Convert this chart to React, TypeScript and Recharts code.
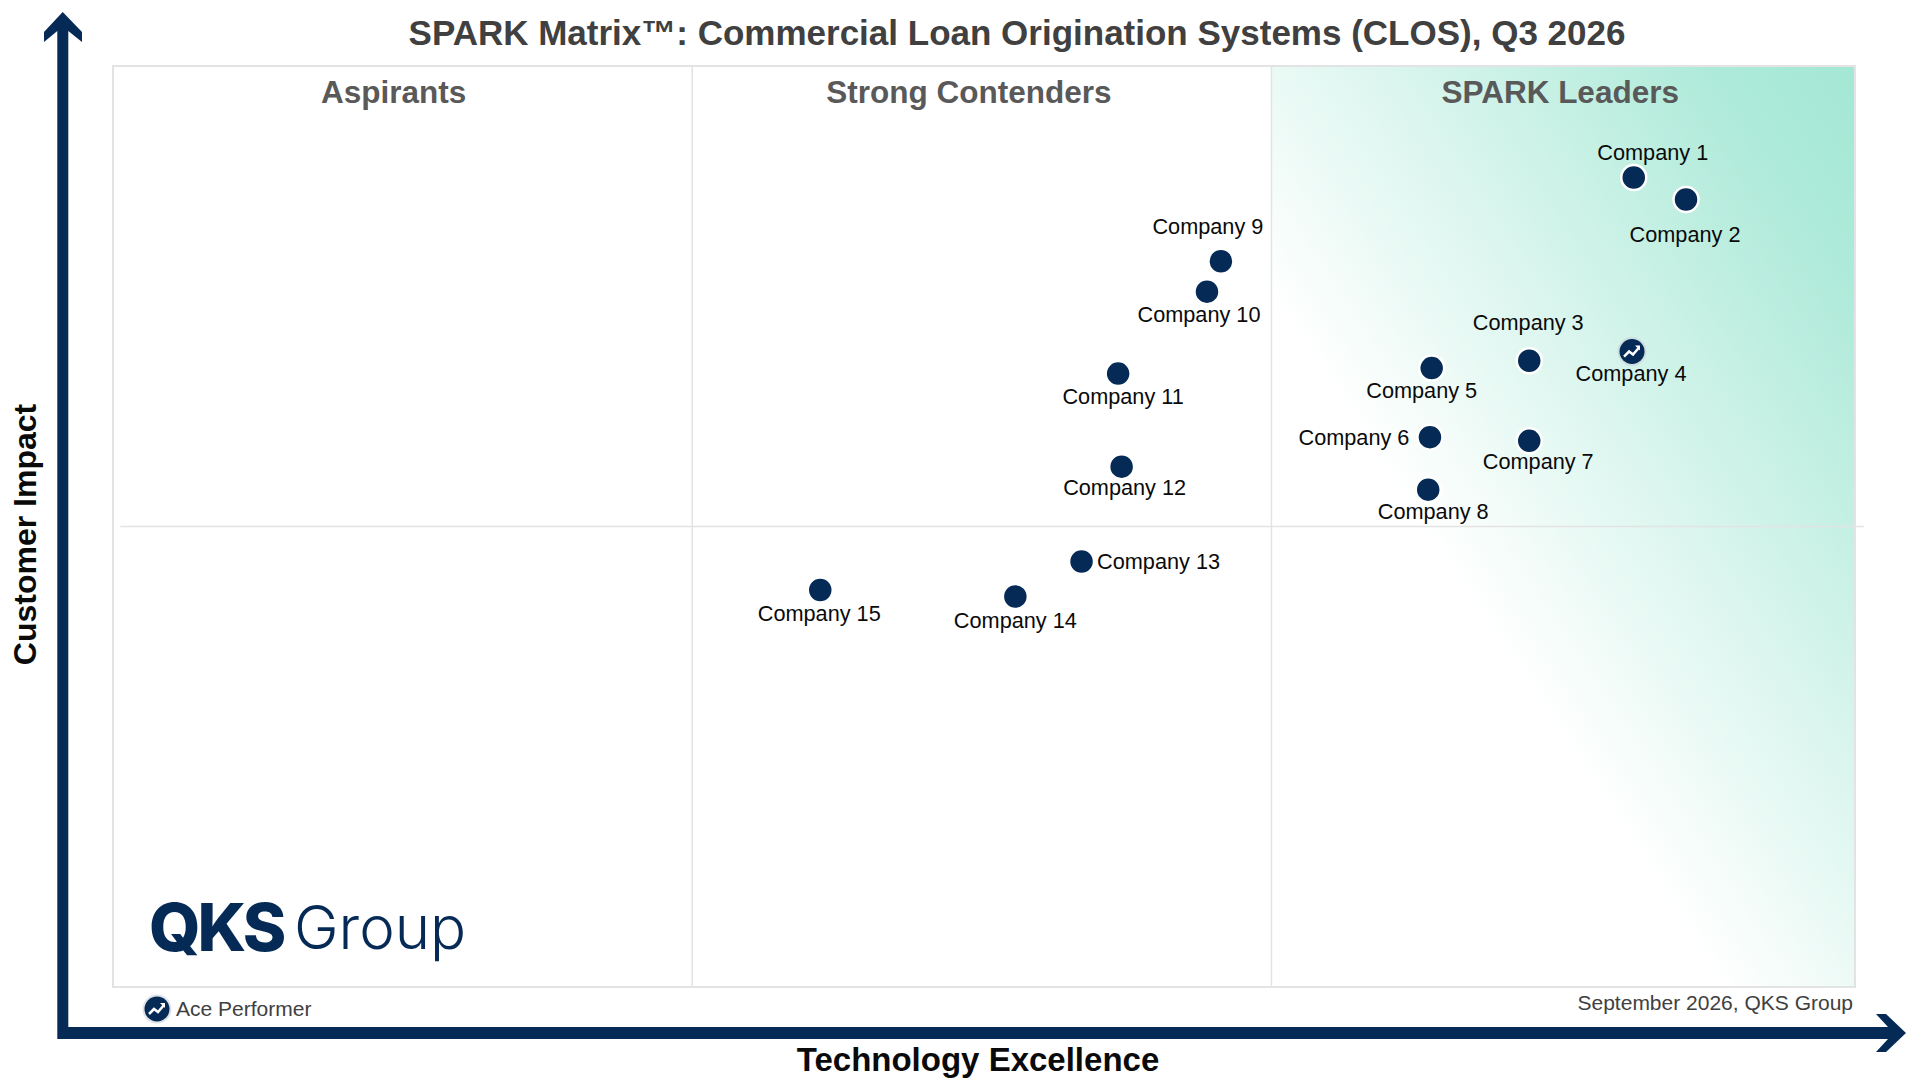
import { ScatterChart, Scatter, XAxis, YAxis, ReferenceArea, ReferenceLine, Label } from "recharts";

const companies = [
  "Company 1", "Company 2", "Company 3", "Company 4", "Company 5",
  "Company 6", "Company 7", "Company 8", "Company 9", "Company 10",
  "Company 11", "Company 12", "Company 13", "Company 14", "Company 15",
];
const technologyExcellence = [87.3, 90.3, 81.3, 87.2, 75.7, 75.6, 81.3, 75.5, 63.6, 62.8, 57.7, 57.9, 55.6, 51.8, 40.6];
const customerImpact = [87.9, 85.5, 68.0, 69.0, 67.2, 59.7, 59.3, 54.0, 78.8, 75.5, 66.6, 56.5, 46.2, 42.4, 43.1];
const acePerformers = ["Company 4"];
const quadrantEdges = [0, 33.25, 66.5, 100];
const quadrantNames = ["Aspirants", "Strong Contenders", "SPARK Leaders"];

const data = companies.map((name, i) => ({
  name,
  x: technologyExcellence[i],
  y: customerImpact[i],
}));

const NAVY = "#052a56";

// label offset from its dot, px
const labelOffsets: Record<string, [number, number]> = {
  "Company 1": [19, -25],
  "Company 2": [-1, 35],
  "Company 3": [-1, -38],
  "Company 4": [-1, 22],
  "Company 5": [-10, 22],
  "Company 6": [-76, 0],
  "Company 7": [9, 21],
  "Company 8": [5, 22],
  "Company 9": [-13, -35],
  "Company 10": [-8, 23],
  "Company 11": [5, 23],
  "Company 12": [3, 21],
  "Company 13": [77, 0],
  "Company 14": [0, 24],
  "Company 15": [-1, 23],
};

const quadrantNudge = [-9, -13, -3];

const AceIcon = ({ cx, cy }: { cx: number; cy: number }) => (
  <g>
    <circle cx={cx} cy={cy} r={14.5} fill="#c9d0d8" opacity={0.6} />
    <circle cx={cx} cy={cy} r={12.5} fill={NAVY} />
    <polyline
      points={`${cx - 8},${cy + 5} ${cx - 3},${cy} ${cx + 1},${cy + 3} ${cx + 7},${cy - 4}`}
      fill="none"
      stroke="#fff"
      strokeWidth={2.5}
    />
    <polyline points={`${cx + 3},${cy - 6} ${cx + 8},${cy - 6} ${cx + 8},${cy - 1}`} fill="#fff" stroke="none" />
  </g>
);

const CompanyDot = (props: any) => {
  const { cx, cy, payload } = props;
  const [dx, dy] = labelOffsets[payload.name];
  return (
    <g>
      {acePerformers.includes(payload.name) ? (
        <AceIcon cx={cx} cy={cy} />
      ) : (
        <circle cx={cx} cy={cy} r={12.5} fill={NAVY} stroke="#fff" strokeWidth={2.5} />
      )}
      <text
        x={cx + dx}
        y={cy + dy}
        textAnchor="middle"
        dominantBaseline="central"
        fontSize={21.7}
        fill="#0a0a0a"
      >
        {payload.name}
      </text>
    </g>
  );
};

export default function App() {
  return (
    <div style={{ position: "absolute", left: 0, top: 0, width: 1920, height: 1080, background: "#fff" }}>
      <ScatterChart
        width={1920}
        height={1080}
        margin={{ left: 112, right: 65, top: 66, bottom: 92 }}
        style={{ fontFamily: "'Liberation Sans', Arial, sans-serif" }}
      >
        <defs>
          <linearGradient id="leaders" gradientUnits="userSpaceOnUse" x1={1272} y1={300} x2={1790} y2={-40}>
            <stop offset="0" stopColor="#ffffff" />
            <stop offset="0.8" stopColor="#aeead9" />
            <stop offset="1" stopColor="#a3e8d4" />
          </linearGradient>
        </defs>
        <XAxis type="number" dataKey="x" domain={[0, 100]} height={1} tick={false} axisLine={false} tickLine={false}>
          <Label
            value="Technology Excellence"
            position="bottom"
            offset={60}
            dx={-6}
            style={{ fontSize: 33, fontWeight: 700, fill: "#0a0a0a" }}
          />
        </XAxis>
        <YAxis type="number" dataKey="y" domain={[0, 100]} width={1} tick={false} axisLine={false} tickLine={false}>
          <Label
            value="Customer Impact"
            angle={-90}
            position="left"
            offset={87}
            dy={8}
            style={{ fontSize: 32, fontWeight: 700, fill: "#0a0a0a", textAnchor: "middle" }}
          />
        </YAxis>

        <ReferenceArea x1={66.5} x2={100} y1={0} y2={100} fill="url(#leaders)" fillOpacity={1} stroke="none" />
        <ReferenceArea x1={0} x2={100} y1={0} y2={100} fill="none" stroke="#e3e3e3" strokeWidth={2} />
        {quadrantEdges.slice(1, 3).map((edge) => (
          <ReferenceLine key={edge} x={edge} stroke="#e3e3e3" strokeWidth={1.5} />
        ))}
        <ReferenceLine
          segment={[{ x: 0.42, y: 50 }, { x: 100.5, y: 50 }]}
          stroke="#e3e3e3"
          strokeWidth={1.5}
          ifOverflow="visible"
        />
        {quadrantNames.map((name, i) => (
          <ReferenceArea key={name} x1={quadrantEdges[i]} x2={quadrantEdges[i + 1]} y1={0} y2={100} fill="none" stroke="none">
            <Label
              value={name}
              position="insideTop"
              offset={15}
              dx={quadrantNudge[i]}
              style={{ fontSize: 31.5, fontWeight: 700, fill: "#595959" }}
            />
          </ReferenceArea>
        ))}

        <Scatter data={data} isAnimationActive={false} shape={CompanyDot} />

        <text x={1017} y={45} textAnchor="middle" fontSize={35} fontWeight={700} fill="#404040">
          SPARK Matrix™: Commercial Loan Origination Systems (CLOS), Q3 2026
        </text>

        {/* axis arrows */}
        <path
          d="M62.7 12 L82 32 V42 L68.3 31 V1027 H1888 L1876 1014 H1886 L1906 1033 L1886 1052 H1876 L1888 1039 H57.3 V31 L44 42 V32 Z"
          fill={NAVY}
        />

        {/* logo */}
        <text x={149} y={951} fontSize={66} fontWeight={800} fill={NAVY} letterSpacing={-3} style={{ fontFamily: "Inter" }}>
          QKS
        </text>
        <text x={294} y={949} fontSize={60} fontWeight={300} fill={NAVY} style={{ fontFamily: "Inter" }}>
          Group
        </text>

        <AceIcon cx={157} cy={1009} />
        <text x={176} y={1016} fontSize={21} fill="#404040">
          Ace Performer
        </text>
        <text x={1853} y={1010} textAnchor="end" fontSize={21} fill="#404040">
          September 2026, QKS Group
        </text>
      </ScatterChart>
    </div>
  );
}
